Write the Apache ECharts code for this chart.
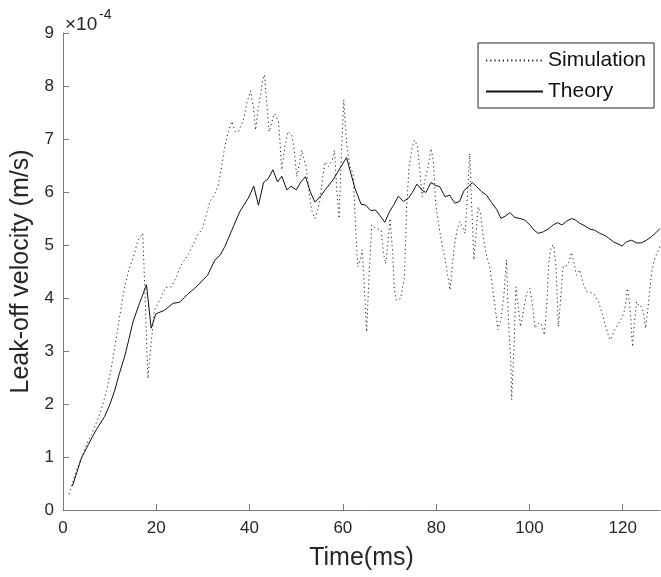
<!DOCTYPE html>
<html>
<head>
<meta charset="utf-8">
<script src="https://cdn.jsdelivr.net/npm/echarts@6/dist/echarts.min.js"></script>
<style>
  html, body { margin: 0; padding: 0; background: #fff; }
  #chart { width: 661px; height: 577px; }
</style>
</head>
<body>
<div id="chart"></div>
<script>
// values in units of 1e-4 m/s, time in ms
const xTicks = [0, 20, 40, 60, 80, 100, 120];
const yTicks = [0, 1, 2, 3, 4, 5, 6, 7, 8, 9];

const simulation = [
  [1.3,0.30],[2.1,0.53],[2.9,0.75],[3.9,0.97],[5,1.23],[6.1,1.42],[7.1,1.64],[8.2,1.89],[8.9,2.11],[9.6,2.36],
  [10.4,2.70],[11.1,3.08],[11.8,3.46],[12.5,3.84],[13.2,4.21],[14.1,4.53],[15.1,4.78],[16.1,5.09],[17.1,5.22],[17.5,4.28],
  [18.2,2.48],[18.9,3.14],[19.6,3.77],[20.9,3.99],[22,4.20],[23.2,4.21],[24.3,4.39],[25.1,4.59],[26.1,4.72],[27,4.84],
  [28,5.03],[28.9,5.19],[29.9,5.31],[30.4,5.47],[31.5,5.82],[32.4,5.94],[33.3,6.13],[34,6.48],[34.7,6.86],[35.4,7.14],
  [36.2,7.33],[36.9,7.14],[37.6,7.14],[38.7,7.36],[39.4,7.67],[40.2,7.91],[40.8,7.61],[41.3,7.17],[41.9,7.61],[42.4,7.86],
  [42.8,8.11],[43.2,8.21],[43.7,7.67],[44.2,7.14],[45,7.39],[45.4,7.48],[46.2,7.33],[46.5,6.98],[46.9,6.42],[47.6,6.86],
  [48.2,7.14],[49,7.08],[49.6,6.79],[50.1,6.29],[50.7,6.54],[51.2,6.79],[52.1,6.48],[52.8,5.97],[53.3,5.66],[54,5.50],
  [55,5.79],[55.7,6.29],[56.2,6.57],[56.9,6.48],[57.7,6.60],[58.2,6.79],[58.7,6.04],[59.2,5.50],[59.7,6.73],[60.2,7.74],
  [60.8,6.92],[61.5,6.48],[62.2,6.35],[62.7,5.41],[63.2,4.59],[63.7,4.72],[64.2,4.91],[64.6,4.21],[65.1,3.36],[65.6,4.40],
  [66.2,5.38],[67.2,5.31],[68.2,5.28],[68.7,4.84],[69.2,4.65],[69.6,4.97],[70.1,5.50],[70.7,4.84],[71,4.21],[71.4,3.96],
  [72.4,3.99],[73.2,4.40],[73.7,5.72],[74.2,6.48],[74.9,6.86],[75.4,6.98],[76,6.86],[76.5,6.42],[77,5.91],[77.6,6.23],
  [78.3,6.48],[78.9,6.82],[79.4,6.60],[79.9,5.79],[80.4,5.47],[81.2,5.03],[81.9,4.75],[82.4,4.47],[83,4.15],[83.5,4.65],
  [84,5.03],[84.5,5.28],[85.1,5.44],[85.7,5.33],[86.2,5.22],[86.5,5.60],[86.9,6.23],[87.2,6.73],[87.6,5.79],[88.1,4.72],
  [88.5,5.16],[89,5.72],[89.5,5.60],[90,5.22],[90.7,4.84],[91.5,4.59],[92.2,4.15],[92.8,3.71],[93.3,3.40],[94,3.65],
  [94.5,4.03],[95.1,4.72],[95.5,3.58],[96,2.83],[96.2,2.08],[96.7,3.08],[97.1,4.21],[97.6,3.84],[98.1,3.46],[98.7,3.74],
  [99.4,4.09],[100.1,4.18],[100.7,3.84],[101.2,3.43],[101.9,3.52],[102.6,3.51],[103.2,3.30],[103.7,3.84],[104.2,4.72],[104.7,4.97],
  [105.2,5.00],[105.7,4.59],[106.2,3.46],[106.8,4.09],[107.2,4.59],[107.8,4.59],[108.5,4.69],[109,4.86],[109.6,4.65],[110.1,4.43],
  [110.8,4.53],[111.5,4.28],[112.3,4.12],[113.2,4.10],[114,4.06],[114.8,3.93],[115.5,3.74],[116.2,3.52],[116.9,3.30],[117.3,3.21],
  [117.8,3.30],[118.5,3.43],[119.2,3.53],[119.8,3.62],[120.3,3.74],[120.7,3.93],[121,4.18],[121.4,3.96],[121.8,3.52],[122.1,3.08],
  [122.5,3.52],[123,3.93],[123.5,3.84],[124,3.84],[124.5,3.71],[124.9,3.43],[125.3,3.71],[125.8,4.15],[126.3,4.53],[126.9,4.75],
  [127.5,4.87],[128,4.97]
];

const theory = [
  [2.0,0.45],[2.9,0.69],[3.9,0.97],[5.4,1.23],[7.1,1.51],[8.9,1.76],[10,1.98],[11.1,2.26],[12.1,2.58],[13.2,2.89],
  [14.1,3.21],[15,3.55],[16.4,3.90],[17.9,4.25],[18.9,3.43],[19.9,3.70],[21.8,3.77],[23.6,3.90],[25,3.92],[26.8,4.08],
  [28.2,4.18],[30,4.34],[31,4.43],[32.6,4.72],[33.7,4.81],[34.7,4.97],[36.2,5.28],[37.9,5.63],[39.7,5.88],[40.9,6.11],
  [41.9,5.75],[43,6.18],[44,6.25],[45,6.42],[46,6.19],[46.9,6.30],[48,6.04],[48.9,6.11],[50,6.04],[51,6.19],
  [52,6.29],[53,6.01],[54,5.81],[55.2,5.92],[56.2,6.04],[57.9,6.23],[59.4,6.45],[60.8,6.65],[61.5,6.42],[62.6,6.07],
  [63.9,5.77],[64.9,5.75],[66,5.65],[67,5.66],[68,5.55],[69,5.43],[70,5.63],[71,5.77],[71.9,5.92],[73,5.82],
  [74,5.88],[74.9,5.99],[75.9,6.15],[76.9,6.04],[77.8,5.99],[78.9,6.18],[79.7,6.13],[80.8,6.10],[81.9,5.91],[82.9,5.94],
  [84,5.79],[85,5.82],[86,6.03],[86.9,6.10],[87.8,6.18],[88.7,6.10],[89.7,6.01],[90.8,5.94],[91.9,5.80],[93,5.67],
  [93.9,5.50],[94.9,5.55],[95.8,5.61],[96.9,5.52],[98,5.50],[99,5.47],[100.1,5.38],[101,5.28],[101.9,5.22],[103,5.25],
  [104,5.30],[105.1,5.38],[106,5.42],[107,5.38],[108,5.45],[109,5.50],[109.9,5.47],[110.8,5.41],[111.9,5.36],[113,5.30],
  [114,5.28],[115.1,5.22],[116.2,5.18],[117,5.13],[118,5.06],[119,5.02],[119.9,4.98],[120.8,5.06],[121.9,5.09],[123,5.04],
  [124,5.04],[125.1,5.09],[126.2,5.16],[127.1,5.23],[128,5.31]
];

const FONT = 'Liberation Sans, Arial, sans-serif';
const TXT = '#262626';
const AX = '#7a7a7a';

const chart = echarts.init(document.getElementById('chart'));
chart.setOption({
  animation: false,
  backgroundColor: '#fff',
  textStyle: { fontFamily: FONT },
  grid: { left: 63, right: 1, top: 33, bottom: 67 },
  legend: {
    orient: 'vertical',
    left: 478,
    top: 43,
    padding: [7, 8, 6, 7],
    itemGap: 10,
    itemWidth: 57,
    itemHeight: 14,
    borderColor: '#262626',
    borderWidth: 1,
    itemStyle: { opacity: 0 },
    textStyle: { fontSize: 21, color: '#111', fontFamily: FONT },
    data: ['Simulation', 'Theory']
  },
  xAxis: {
    type: 'value',
    min: 0,
    max: 128,
    interval: 20,
    name: 'Time(ms)',
    nameLocation: 'middle',
    nameGap: 36,
    nameTextStyle: { fontSize: 25, color: TXT, fontFamily: FONT },
    axisLine: { show: true, lineStyle: { color: AX, width: 1 } },
    axisTick: { show: true, inside: true, length: 6, lineStyle: { color: AX }, customValues: xTicks },
    axisLabel: { fontSize: 17, color: TXT, margin: 10, customValues: xTicks },
    splitLine: { show: false }
  },
  yAxis: {
    type: 'value',
    min: 0,
    max: 9,
    interval: 1,
    name: 'Leak-off velocity (m/s)',
    nameLocation: 'middle',
    nameGap: 26,
    nameTextStyle: { fontSize: 25, color: TXT, fontFamily: FONT },
    axisLine: { show: true, lineStyle: { color: AX, width: 1 } },
    axisTick: { show: true, inside: true, length: 6, lineStyle: { color: AX }, customValues: yTicks },
    axisLabel: { fontSize: 17, color: TXT, margin: 9, customValues: yTicks },
    splitLine: { show: false }
  },
  graphic: [
    { type: 'text', x: 65, y: 15, style: { text: '×10', fontSize: 19, fill: TXT, fontFamily: FONT } },
    { type: 'text', x: 99, y: 8, style: { text: '-4', fontSize: 14, fill: TXT, fontFamily: FONT } }
  ],
  series: [
    {
      name: 'Simulation',
      type: 'line',
      data: simulation,
      symbol: 'none',
      lineStyle: { color: '#222', width: 1, type: [1.2, 3] },
      itemStyle: { color: '#222' }
    },
    {
      name: 'Theory',
      type: 'line',
      data: theory,
      symbol: 'none',
      lineStyle: { color: '#111', width: 1 },
      itemStyle: { color: '#111' }
    }
  ]
});
</script>
</body>
</html>
